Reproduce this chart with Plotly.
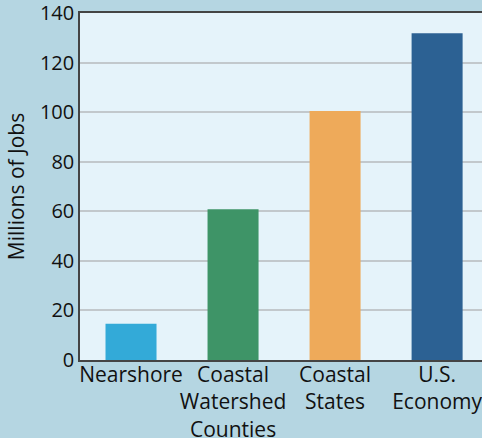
import plotly.graph_objects as go

categories = ["Nearshore", "Coastal<br>Watershed<br>Counties", "Coastal<br>States", "U.S.<br>Economy"]
jobs_millions = [14.6, 60.8, 100.5, 131.8]
bar_colors = ["#33aad8", "#3e9467", "#eeaa5a", "#2c6193"]
y_ticks = [0, 20, 40, 60, 80, 100, 120, 140]

fig = go.Figure(go.Bar(x=list(range(len(categories))), y=jobs_millions,
                       marker=dict(color=bar_colors, line=dict(width=0)), width=0.5,
                       hoverinfo="skip"))

ytick_font = dict(family="Open Sans, Noto Sans, sans-serif", size=20, color="#111111")
xtick_font = dict(family="Open Sans, Noto Sans, sans-serif", size=21, color="#111111")
title_font = dict(family="Open Sans, Noto Sans, sans-serif", size=21, color="#111111")
fig.update_layout(
    width=482, height=438,
    margin=dict(l=80, r=0, t=13, b=78, autoexpand=False),
    paper_bgcolor="#b5d6e2", plot_bgcolor="#e5f3fa",
    font=ytick_font, showlegend=False,
)
fig.update_xaxes(
    tickmode="array", tickvals=list(range(len(categories))), ticktext=categories,
    range=[-0.5, 3.44], showgrid=False, showline=True, linecolor="#444444", linewidth=1.5,
    ticks="", tickfont=xtick_font, mirror=True, zeroline=False, automargin=False,
    tickangle=0, ticklabeloverflow="allow", ticklabelstandoff=-5,
)
fig.update_yaxes(
    range=[0, 140], tickmode="array", tickvals=y_ticks,
    showgrid=True, gridcolor="#c2c8cc", gridwidth=1.5,
    showline=True, linecolor="#444444", linewidth=1.5, mirror=False,
    ticks="", tickfont=ytick_font, zeroline=False, automargin=False,
    ticklabeloverflow="allow",
    title=dict(text="Millions of Jobs", font=title_font, standoff=10),
)
fig.write_html("out.html", config={"displayModeBar": False},
               post_script="document.body.style.margin='0px';document.body.style.background='#b5d6e2';document.body.style.overflow='hidden';")
